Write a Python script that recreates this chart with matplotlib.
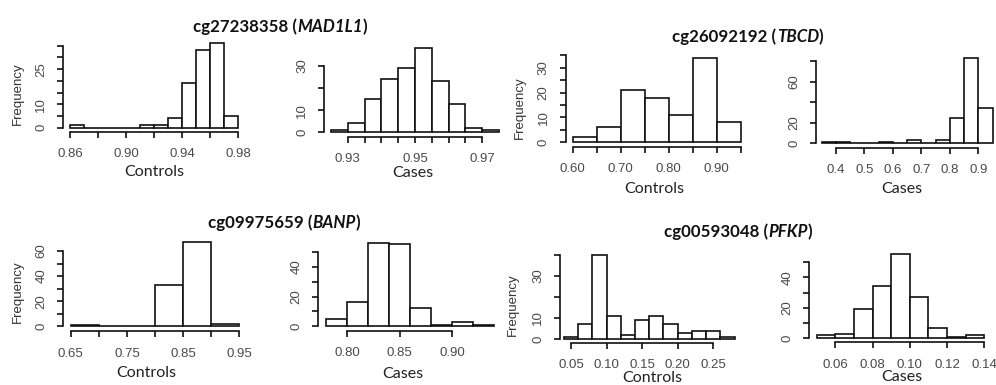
import matplotlib
matplotlib.use('Agg')
from matplotlib import pyplot as plt

# MAD1L1 controls / cases
mad_ctrl_edges = [0.86, 0.87, 0.88, 0.89, 0.90, 0.91, 0.92, 0.93, 0.94, 0.95, 0.96, 0.97, 0.98]
mad_ctrl_counts = [1, 0, 0, 0, 0, 1, 1, 4, 19, 33, 36, 5]
mad_ctrl_xticks = [0.86, 0.88, 0.90, 0.92, 0.94, 0.96, 0.98]
mad_ctrl_xlabels = ['0.86', '', '0.90', '', '0.94', '', '0.98']
mad_ctrl_yticks = [0, 5, 10, 15, 20, 25, 30, 35]
mad_ctrl_ylabels = ['0', '', '10', '', '', '25', '', '']

mad_case_edges = [0.925, 0.930, 0.935, 0.940, 0.945, 0.950, 0.955, 0.960, 0.965, 0.970, 0.975]
mad_case_counts = [1, 4, 15, 24, 29, 38, 23, 13, 2, 1]
mad_case_xticks = [0.930, 0.935, 0.940, 0.945, 0.950, 0.955, 0.960, 0.965, 0.970]
mad_case_xlabels = ['0.93', '', '', '', '0.95', '', '', '', '0.97']
mad_case_yticks = [0, 10, 20, 30]
mad_case_ylabels = ['0', '10', '', '30']

# TBCD
tbcd_ctrl_edges = [0.60, 0.65, 0.70, 0.75, 0.80, 0.85, 0.90, 0.95]
tbcd_ctrl_counts = [2, 6, 21, 18, 11, 34, 8]
tbcd_ctrl_xticks = [0.60, 0.65, 0.70, 0.75, 0.80, 0.85, 0.90, 0.95]
tbcd_ctrl_xlabels = ['0.60', '', '0.70', '', '0.80', '', '0.90', '']
tbcd_ctrl_yticks = [0, 5, 10, 15, 20, 25, 30, 35]
tbcd_ctrl_ylabels = ['0', '', '10', '', '20', '', '30', '']

tbcd_case_edges = [0.35, 0.40, 0.45, 0.50, 0.55, 0.60, 0.65, 0.70, 0.75, 0.80, 0.85, 0.90, 0.95]
tbcd_case_counts = [1, 1, 0, 0, 1, 0, 3, 0, 3, 25, 83, 34]
tbcd_case_xticks = [0.4, 0.5, 0.6, 0.7, 0.8, 0.9]
tbcd_case_xlabels = ['0.4', '0.5', '0.6', '0.7', '0.8', '0.9']
tbcd_case_yticks = [0, 20, 40, 60, 80]
tbcd_case_ylabels = ['0', '20', '', '60', '']

# BANP
banp_ctrl_edges = [0.65, 0.70, 0.75, 0.80, 0.85, 0.90, 0.95]
banp_ctrl_counts = [1, 0, 0, 33, 67, 2]
banp_ctrl_xticks = [0.65, 0.70, 0.75, 0.80, 0.85, 0.90, 0.95]
banp_ctrl_xlabels = ['0.65', '', '0.75', '', '0.85', '', '0.95']
banp_ctrl_yticks = [0, 10, 20, 30, 40, 50, 60]
banp_ctrl_ylabels = ['0', '', '20', '', '40', '', '60']

banp_case_edges = [0.78, 0.80, 0.82, 0.84, 0.86, 0.88, 0.90, 0.92, 0.94]
banp_case_counts = [5, 16, 56, 55, 12, 1, 3, 1]
banp_case_xticks = [0.80, 0.85, 0.90]
banp_case_xlabels = ['0.80', '0.85', '0.90']
banp_case_yticks = [0, 10, 20, 30, 40, 50]
banp_case_ylabels = ['0', '', '20', '', '40', '']

# PFKP
pfkp_ctrl_edges = [0.04, 0.06, 0.08, 0.10, 0.12, 0.14, 0.16, 0.18, 0.20, 0.22, 0.24, 0.26, 0.28]
pfkp_ctrl_counts = [1, 7, 40, 11, 2, 9, 11, 7, 3, 4, 4, 1]
pfkp_ctrl_xticks = [0.05, 0.10, 0.15, 0.20, 0.25]
pfkp_ctrl_xlabels = ['0.05', '0.10', '0.15', '0.20', '0.25']
pfkp_ctrl_yticks = [0, 10, 20, 30, 40]
pfkp_ctrl_ylabels = ['0', '10', '', '30', '']

pfkp_case_edges = [0.05, 0.06, 0.07, 0.08, 0.09, 0.10, 0.11, 0.12, 0.13, 0.14]
pfkp_case_counts = [2, 3, 19, 34, 55, 27, 7, 1, 2]
pfkp_case_xticks = [0.06, 0.08, 0.10, 0.12, 0.14]
pfkp_case_xlabels = ['0.06', '0.08', '0.10', '0.12', '0.14']
pfkp_case_yticks = [0, 10, 20, 30, 40, 50]
pfkp_case_ylabels = ['0', '', '20', '', '40', '']

titles = [('cg27238358', 'MAD1L1'), ('cg26092192', 'TBCD'),
          ('cg09975659', 'BANP'), ('cg00593048', 'PFKP')]

W, H = 996, 385
DPI = 100

# pixel layout: x value a -> px, x value b -> px, y0 px, y ref value -> px,
# y-axis line px, x-axis line px, xlabel centre, ylabel centre
panels = [
    (mad_ctrl_edges, mad_ctrl_counts, mad_ctrl_xticks, mad_ctrl_xlabels, mad_ctrl_yticks, mad_ctrl_ylabels,
     'Controls', (0.86, 70, 0.98, 238.3, 127.7, 35, 45.7, 63.3, 131.7), (154, 172), (18, 94)),
    (mad_case_edges, mad_case_counts, mad_case_xticks, mad_case_xlabels, mad_case_yticks, mad_case_ylabels,
     'Cases', (0.93, 347.7, 0.97, 482.3, 132.3, 30, 66, 324, 136.7), (413, 173), None),
    (tbcd_ctrl_edges, tbcd_ctrl_counts, tbcd_ctrl_xticks, tbcd_ctrl_xlabels, tbcd_ctrl_yticks, tbcd_ctrl_ylabels,
     'Controls', (0.60, 572.7, 0.90, 716.7, 142.3, 30, 67.7, 565.7, 146.7), (654, 189), (520, 108)),
    (tbcd_case_edges, tbcd_case_counts, tbcd_case_xticks, tbcd_case_xlabels, tbcd_case_yticks, tbcd_case_ylabels,
     'Cases', (0.4, 836, 0.9, 978.3, 143.3, 60, 81.7, 816, 147.7), (902, 189), None),
    (banp_ctrl_edges, banp_ctrl_counts, banp_ctrl_xticks, banp_ctrl_xlabels, banp_ctrl_yticks, banp_ctrl_ylabels,
     'Controls', (0.65, 70.7, 0.95, 239.3, 326.3, 60, 251, 63.3, 331), (146, 372.7), (18, 292)),
    (banp_case_edges, banp_case_counts, banp_case_xticks, banp_case_xlabels, banp_case_yticks, banp_case_ylabels,
     'Cases', (0.80, 347.3, 0.90, 452.3, 326.3, 40, 266.7, 318.3, 330.7), (403, 374), None),
    (pfkp_ctrl_edges, pfkp_ctrl_counts, pfkp_ctrl_xticks, pfkp_ctrl_xlabels, pfkp_ctrl_yticks, pfkp_ctrl_ylabels,
     'Controls', (0.05, 571, 0.25, 713.3, 339, 30, 275.7, 560, 342.7), (652, 377.5), (513, 305)),
    (pfkp_case_edges, pfkp_case_counts, pfkp_case_xticks, pfkp_case_xlabels, pfkp_case_yticks, pfkp_case_ylabels,
     'Cases', (0.06, 835.3, 0.14, 984.3, 338.3, 40, 277.3, 809.3, 342.3), (902, 377), None),
]
title_pos = [(280, 27), (748, 37), (284, 223), (738, 232)]

tick_font = 'Liberation Sans'
label_font = 'Lato'
gray = '#4a4a4a'

fig = plt.figure(figsize=(W / DPI, H / DPI), dpi=DPI)
fig.patch.set_facecolor('white')

for edges, counts, xt, xl, yt, yl, xname, lay, xlab, ylab in panels:
    xa, pxa, xb, pxb, py0, yref, pyref, yax, xax = lay
    sx = (pxb - pxa) / (xb - xa)
    sy = (py0 - pyref) / yref
    lo, hi = edges[0], edges[-1]
    top = max(yt[-1], max(counts))
    px_lo = pxa + (lo - xa) * sx
    px_hi = pxa + (hi - xa) * sx
    py_top = py0 - top * sy
    ax = fig.add_axes([px_lo / W, 1 - py0 / H, (px_hi - px_lo) / W, (py0 - py_top) / H])
    ax.set_xlim(lo, hi)
    ax.set_ylim(0, top)
    widths = [edges[i + 1] - edges[i] for i in range(len(counts))]
    ax.bar(edges[:-1], counts, width=widths, align='edge', facecolor='white',
           edgecolor='#111111', linewidth=1.2, clip_on=False)
    ax.patch.set_alpha(0)
    for s in ['top', 'right']:
        ax.spines[s].set_visible(False)
    ax.spines['left'].set_position(('outward', (px_lo - yax) * 72 / DPI))
    ax.spines['bottom'].set_position(('outward', (xax - py0) * 72 / DPI))
    ax.spines['left'].set_bounds(yt[0], yt[-1])
    ax.spines['bottom'].set_bounds(xt[0], xt[-1])
    for s in ['left', 'bottom']:
        ax.spines[s].set_linewidth(1.2)
        ax.spines[s].set_color('#111111')
    ax.set_xticks(xt)
    ax.set_xticklabels(xl)
    ax.set_yticks(yt)
    ax.set_yticklabels(yl, rotation=90, va='center')
    ax.tick_params(length=4.5, width=1.2, color='#111111', labelsize=9.5, labelcolor=gray)
    ax.tick_params(axis='x', pad=7.5)
    ax.tick_params(axis='y', pad=7)
    for t in ax.get_xticklabels() + ax.get_yticklabels():
        t.set_fontfamily(tick_font)
    w_ax = px_hi - px_lo
    h_ax = py0 - py_top
    ax.set_xlabel(xname, fontsize=11.5, family=label_font, color='#222222', va='center')
    ax.xaxis.set_label_coords((xlab[0] - px_lo) / w_ax, (py0 - xlab[1]) / h_ax)
    if ylab is not None:
        ax.set_ylabel('Frequency', fontsize=9.5, family=tick_font, color='#333333', va='center')
        ax.yaxis.set_label_coords((ylab[0] - px_lo) / w_ax, (py0 - ylab[1]) / h_ax)

# titles: probe id in bold, gene name in bold italic
r = fig.canvas.get_renderer()
for (probe, gene), (cx, cy) in zip(titles, title_pos):
    parts = [(probe + ' (', 'normal'), (gene, 'italic'), (')', 'normal')]
    texts = []
    total = 0
    for s, st in parts:
        t = fig.text(0, 1 - cy / H, s, fontsize=12.2, fontweight='bold', style=st,
                     family=label_font, va='center', ha='left', color='#111111')
        w = t.get_window_extent(r).width
        texts.append((t, w))
        total += w
    x = cx - total / 2
    for t, w in texts:
        t.set_x(x / W)
        x += w

fig.savefig('out.png', dpi=DPI, facecolor='white')
